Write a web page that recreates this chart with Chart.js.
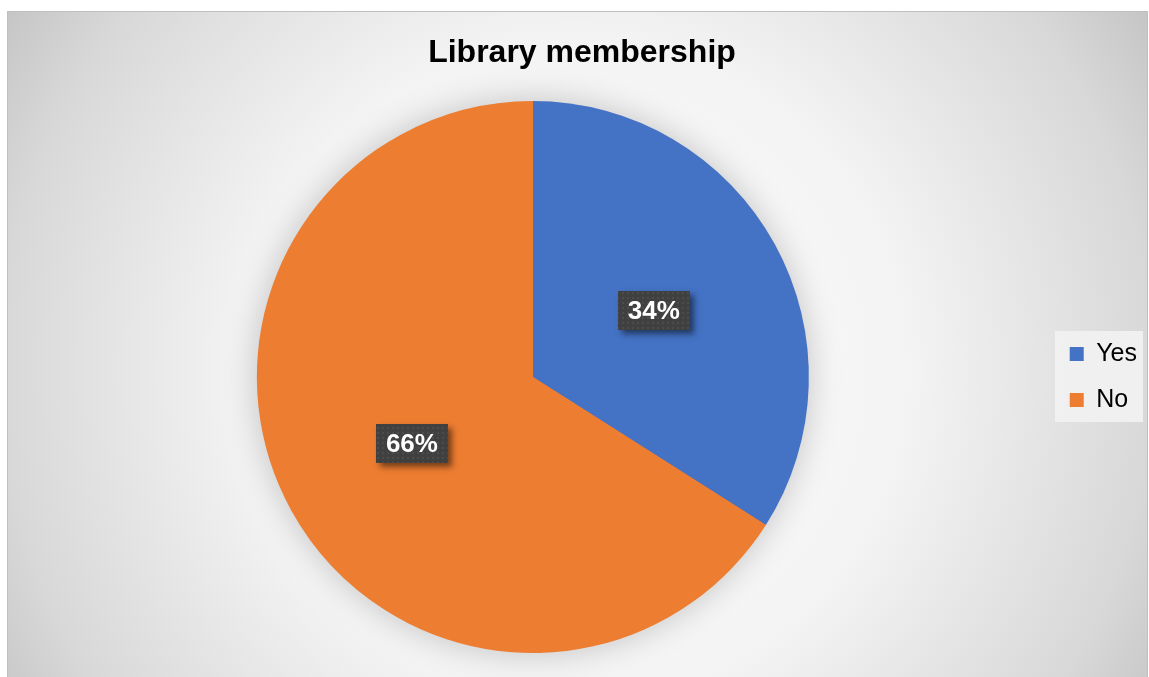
<!DOCTYPE html>
<html>
<head>
<meta charset="utf-8">
<script src="https://cdn.jsdelivr.net/npm/chart.js@4"></script>
<style>
  html, body { margin: 0; padding: 0; background: #ffffff; }
  canvas { display: block; }
</style>
</head>
<body>
<canvas id="membership_chart" width="1149" height="677"></canvas>
<script>
const categories = ['Yes', 'No'];
const shares = [34, 66];
const sliceColors = ['#4472c4', '#ed7d31'];

const FONT = "'Liberation Sans', Arial, sans-serif";

// frame with the grey radial fill behind everything
const chartBackground = {
  id: 'chartBackground',
  beforeDraw(chart) {
    const ctx = chart.ctx;
    ctx.save();
    ctx.fillStyle = '#ffffff';
    ctx.fillRect(0, 0, chart.width, chart.height);

    const x0 = 7, y0 = 11, w = 1141, h = 670;
    const grad = ctx.createRadialGradient(577, 370, 0, 577, 370, 670);
    grad.addColorStop(0, '#ffffff');
    grad.addColorStop(0.5, '#f3f3f3');
    grad.addColorStop(0.86, '#d8d8d8');
    grad.addColorStop(1, '#c6c6c6');
    ctx.fillStyle = grad;
    ctx.fillRect(x0, y0, w, h);
    ctx.strokeStyle = '#bfbfbf';
    ctx.lineWidth = 1;
    ctx.strokeRect(x0 + 0.5, y0 + 0.5, w - 1, h);

    // legend panel
    ctx.fillStyle = 'rgba(242,242,242,0.9)';
    ctx.fillRect(1055, 331, 88, 91);
    ctx.restore();
  }
};

// soft halo under the pie
const pieHalo = {
  id: 'pieHalo',
  beforeDatasetsDraw(chart) {
    const arc = chart.getDatasetMeta(0).data[0];
    if (!arc) return;
    const ctx = chart.ctx;
    ctx.save();
    ctx.shadowColor = 'rgba(0,0,0,0.22)';
    ctx.shadowBlur = 34;
    ctx.fillStyle = '#ed7d31';
    ctx.beginPath();
    ctx.arc(arc.x, arc.y, arc.outerRadius - 1, 0, Math.PI * 2);
    ctx.fill();
    ctx.restore();
  }
};

function makeDotPattern(ctx) {
  const tile = document.createElement('canvas');
  tile.width = 5;
  tile.height = 5;
  const t = tile.getContext('2d');
  t.fillStyle = '#404040';
  t.fillRect(0, 0, 5, 5);
  t.fillStyle = '#4c4c4c';
  t.fillRect(2, 2, 2, 2);
  return ctx.createPattern(tile, 'repeat');
}

// percentage labels in dark boxes at the middle of each slice
const sliceLabels = {
  id: 'sliceLabels',
  afterDatasetsDraw(chart) {
    const ctx = chart.ctx;
    const pattern = makeDotPattern(ctx);
    const meta = chart.getDatasetMeta(0);
    meta.data.forEach((arc, i) => {
      const pos = arc.tooltipPosition();
      const bw = 72, bh = 39;
      const bx = Math.round(pos.x - bw / 2);
      const by = Math.round(pos.y - bh / 2);
      ctx.save();
      ctx.shadowColor = 'rgba(0,0,0,0.5)';
      ctx.shadowBlur = 6;
      ctx.shadowOffsetX = 4;
      ctx.shadowOffsetY = 4;
      ctx.fillStyle = '#404040';
      ctx.fillRect(bx, by, bw, bh);
      ctx.restore();

      ctx.save();
      ctx.fillStyle = pattern;
      ctx.fillRect(bx, by, bw, bh);
      ctx.fillStyle = '#ffffff';
      ctx.font = 'bold 26px ' + FONT;
      ctx.textAlign = 'center';
      ctx.textBaseline = 'middle';
      ctx.fillText(shares[i] + '%', pos.x, pos.y + 1);
      ctx.restore();
    });
  }
};

const data = {
  labels: categories,
  datasets: [{
    data: shares,
    backgroundColor: sliceColors,
    borderWidth: 0,
    hoverOffset: 0
  }]
};

const config = {
  type: 'pie',
  data,
  options: {
    responsive: false,
    animation: false,
    devicePixelRatio: 1,
    layout: {
      padding: { top: 14, bottom: 24, left: 17, right: 2 }
    },
    plugins: {
      title: {
        display: true,
        text: 'Library membership',
        color: '#000000',
        font: { family: FONT, size: 32, weight: 'bold', lineHeight: 1.2 },
        padding: { top: 20, bottom: 28.6 }
      },
      legend: {
        position: 'right',
        fullSize: false,
        labels: {
          color: '#000000',
          font: { family: FONT, size: 25 },
          boxWidth: 14,
          boxHeight: 14,
          padding: 21
        }
      },
      tooltip: { enabled: false }
    }
  },
  plugins: [chartBackground, pieHalo, sliceLabels]
};

new Chart(document.getElementById('membership_chart'), config);
</script>
</body>
</html>
